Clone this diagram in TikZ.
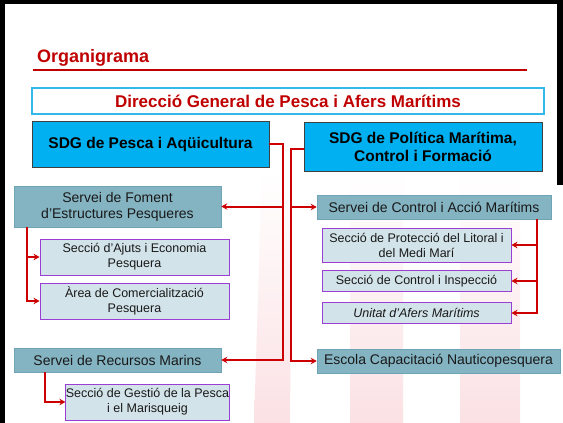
\documentclass[tikz,border=0pt]{standalone}
\usepackage{fontspec}
\setmainfont{Liberation Sans}
\usetikzlibrary{arrows.meta,backgrounds}
\definecolor{titlered}{HTML}{C00000}
\definecolor{linkred}{HTML}{CC0000}
\definecolor{sdgblue}{HTML}{00B0F0}
\definecolor{dgblue}{HTML}{33B8EA}
\definecolor{serveifill}{HTML}{84B3C2}
\definecolor{serveiline}{HTML}{6FA3B6}
\definecolor{secciofill}{HTML}{D2E3E9}
\definecolor{seccioline}{HTML}{9B3FD4}
\definecolor{wmpink}{HTML}{FBE1E4}
\tikzset{
  dg box/.style={draw=dgblue, line width=1.2pt, fill=white, inner sep=0pt,
    minimum width=512pt, minimum height=26pt,
    font=\fontsize{17}{18}\selectfont\bfseries, text=titlered},
  sdg box/.style={draw=black!75, line width=0.8pt, fill=sdgblue, inner sep=0pt,
    align=center, font=\fontsize{15.5}{18}\selectfont\bfseries},
  servei box/.style={draw=serveiline, line width=0.6pt, fill=serveifill, inner sep=0pt,
    align=center, font=\fontsize{14}{16}\selectfont, text=black!90},
  seccio box/.style={draw=seccioline, line width=0.9pt, fill=secciofill, inner sep=0pt,
    align=center, font=\fontsize{12.5}{15}\selectfont, text=black!90},
  link/.style={draw=linkred, line width=2pt,
    -{Stealth[length=6pt,width=6.5pt]}},
}

\begin{document}
\begin{tikzpicture}[x=1pt,y=-1pt]
  \useasboundingbox (0,0) rectangle (563,423);

  % Watermark and frame
  \begin{scope}[on background layer]
    \fill[white] (0,0) rectangle (563,423);
    \shade[top color=white, bottom color=wmpink] (262,170) -- (292,170) -- (290,423) -- (254,423) -- cycle;
    \shade[top color=white, bottom color=wmpink] (350,170) rectangle (403,423);
    \shade[top color=white, bottom color=wmpink] (460,170) rectangle (520,423);
    \fill[black] (0,0) rectangle (5,423);
    \fill[black] (0,0) rectangle (563,4);
    \fill[black] (557,0) rectangle (563,185);
  \end{scope}

  % Title
  \node (titl) [anchor=base west, inner sep=0pt, text=titlered,
    font=\fontsize{18}{20}\selectfont\bfseries] at (37,62) {Organigrama};
  \draw[titlered, line width=2pt] (33,70) -- (527,70);

  % Boxes
  \node (dg) [dg box] at (288,101) {Direcció General de Pesca i Afers Marítims};

  \node (sdgA) [sdg box, minimum width=237pt, minimum height=46pt] at (150.5,144)
    {SDG de Pesca i Aqüicultura};
  \node (sdgB) [sdg box, minimum width=238pt, minimum height=49pt] at (423,146.5)
    {SDG de Política Marítima,\\Control i Formació};

  \node (foment) [servei box, minimum width=207pt, minimum height=41pt] at (117.5,206.5)
    {Servei de Foment\\d’Estructures Pesqueres};
  \node (ajuts) [seccio box, minimum width=189pt, minimum height=36pt] at (134.5,257)
    {Secció d’Ajuts i Economia\\Pesquera};
  \node (area) [seccio box, minimum width=189pt, minimum height=36pt] at (134.5,301)
    {Àrea de Comercialització\\Pesquera};
  \node (recursos) [servei box, minimum width=207pt, minimum height=24pt] at (117.5,360)
    {Servei de Recursos Marins};
  \node (gestio) [seccio box, minimum width=163pt, minimum height=36pt] at (147.5,402)
    {Secció de Gestió de la Pesca\\i el Marisqueig};

  \node (control) [servei box, minimum width=234pt, minimum height=24pt] at (434,207)
    {Servei de Control i Acció Marítims};
  \node (proteccio) [seccio box, minimum width=189pt, minimum height=34pt] at (416.5,245)
    {Secció de Protecció del Litoral i\\del Medi Marí};
  \node (inspeccio) [seccio box, minimum width=189pt, minimum height=21pt] at (416.5,281)
    {Secció de Control i Inspecció};
  \node (unitat) [seccio box, minimum width=189pt, minimum height=21pt] at (416.5,313)
    {\itshape Unitat d’Afers Marítims};
  \node (escola) [servei box, minimum width=243pt, minimum height=24pt] at (438.5,361)
    {Escola Capacitació Nauticopesquera};

  % Connectors
  \coordinate (ja) at (283,144);
  \coordinate (jb) at (291,149);
  \coordinate (jf) at (27,227);
  \coordinate (jr) at (45,372);
  \coordinate (jc) at (537,219);

  \draw[link] (sdgA.east) -- (ja) |- (recursos.east);
  \draw[link] (ja |- foment.east) -- (foment.east);
  \draw[link] (sdgB.west |- jb) -- (jb) |- (escola.west);
  \draw[link] (jb |- control.west) -- (control.west);

  \draw[link] (jf) |- (area.west);
  \draw[link] (jf |- ajuts.west) -- (ajuts.west);
  \draw[link] (jr) |- (gestio.west);

  \draw[link] (jc) |- (unitat.east);
  \draw[link] (jc |- proteccio.east) -- (proteccio.east);
  \draw[link] (jc |- inspeccio.east) -- (inspeccio.east);
\end{tikzpicture}
\end{document}
